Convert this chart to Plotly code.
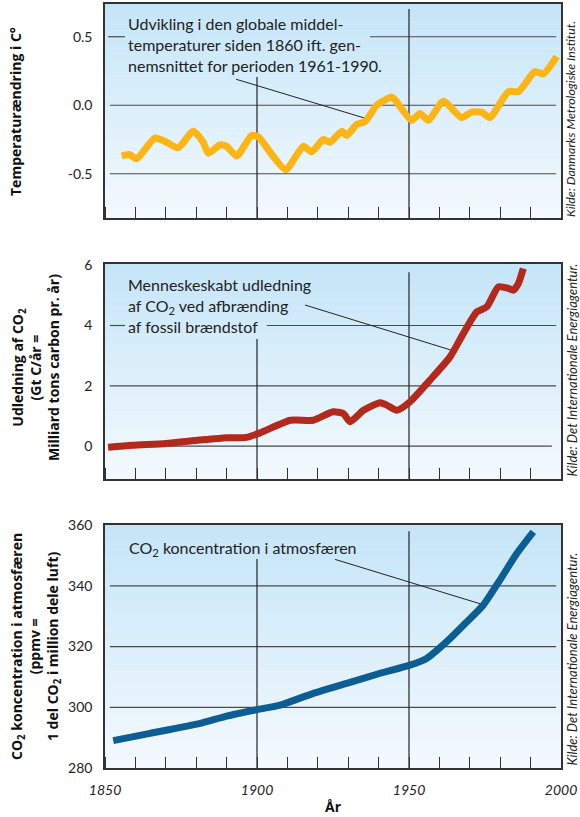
import plotly.graph_objects as go

# ---------------- data ----------------
temp_years = [1855.5, 1858, 1860.4, 1866.4, 1870.3, 1874.1, 1879, 1882.3, 1884, 1887.8,
              1890, 1893.3, 1898.3, 1900.4, 1905.4, 1909.5, 1915.2, 1918, 1921.8, 1924,
              1927.9, 1929.5, 1932.8, 1935.5, 1939.4, 1944.3, 1945.4, 1950.9, 1953.6, 1956.4,
              1961.3, 1967.3, 1970.6, 1973.9, 1976.6, 1982.7, 1986, 1991.4, 1994.2, 1998.6]
temp_values = [-0.37, -0.36, -0.39, -0.24, -0.27, -0.31, -0.19, -0.27, -0.35, -0.29,
               -0.30, -0.37, -0.22, -0.23, -0.375, -0.47, -0.30, -0.34, -0.25, -0.27,
               -0.19, -0.22, -0.14, -0.12, 0.00, 0.06, 0.04, -0.11, -0.06, -0.11,
               0.03, -0.09, -0.05, -0.05, -0.09, 0.10, 0.10, 0.245, 0.23, 0.355]

emis_years = [1851, 1859, 1870, 1881, 1890, 1896.5, 1901, 1911, 1918.5, 1925,
              1928.4, 1930.6, 1935, 1940.5, 1942.7, 1946, 1950.3, 1956.9, 1963.5, 1967.9,
              1972.3, 1975.6, 1979.4, 1982.7, 1984.3, 1986, 1987.6]
emis_values = [-0.04, 0.03, 0.09, 0.20, 0.28, 0.29, 0.44, 0.86, 0.86, 1.14,
               1.08, 0.81, 1.19, 1.44, 1.36, 1.19, 1.47, 2.19, 2.96, 3.74,
               4.45, 4.62, 5.28, 5.23, 5.17, 5.40, 5.89]

conc_years = [1852.7, 1864.8, 1881.3, 1890, 1900.4, 1907.6, 1918.5, 1929.5, 1940.5,
              1950.3, 1955.8, 1962.4, 1969, 1974.4, 1979.9, 1985.4, 1990.9]
conc_values = [289.0, 291.4, 294.7, 297.1, 299.3, 300.7, 304.6, 307.9, 311.2,
               313.9, 316.1, 321.6, 328.1, 333.6, 341.9, 350.6, 357.8]

x_tickvals = [1850, 1900, 1950, 2000]
x_ticktext = ["1850", "1900", "1950", "2000"]
temp_ticks = [0.5, 0.0, -0.5]
temp_ticktext = ["0.5", "0.0", "-0.5"]
emis_ticks = [0, 2, 4, 6]
conc_ticks = [280, 300, 320, 340, 360]

# ---------------- styling ----------------
FONT = "Lato"
YELLOW = "#fdb515"
RED = "#b32a1d"
BLUE = "#0b5d92"
GRID = "#4a4a4a"
DARK = "#222222"

ranges = {
    "y": [-0.823, 0.739],
    "y2": [-1.09, 6.04],
    "y3": [280, 360.2],
}
XR = [1850, 2000]
XDOM = [105 / 580, 561 / 580]
YDOMS = {
    "y": [1 - 218 / 817, 1 - 4 / 817],
    "y2": [1 - 479 / 817, 1 - 264 / 817],
    "y3": [1 - 768 / 817, 1 - 524.5 / 817],
}

fig = go.Figure()

fig.add_trace(go.Scatter(x=temp_years, y=temp_values, mode="lines", xaxis="x", yaxis="y",
                         line=dict(color=YELLOW, width=7, shape="spline", smoothing=0.6),
                         showlegend=False, hoverinfo="skip"))
fig.add_trace(go.Scatter(x=emis_years, y=emis_values, mode="lines", xaxis="x2", yaxis="y2",
                         line=dict(color=RED, width=7, shape="spline", smoothing=0.6),
                         showlegend=False, hoverinfo="skip"))
fig.add_trace(go.Scatter(x=conc_years, y=conc_values, mode="lines", xaxis="x3", yaxis="y3",
                         line=dict(color=BLUE, width=7, shape="spline", smoothing=0.6),
                         showlegend=False, hoverinfo="skip"))

shapes = []

# gradient background (light blue at top -> almost white at bottom)
TOP_RGB = (196, 229, 248)
BOT_RGB = (244, 249, 253)
NB = 48
for ax in ["", "2", "3"]:
    for i in range(NB):
        t = (i + 0.5) / NB
        c = tuple(round(BOT_RGB[k] + (TOP_RGB[k] - BOT_RGB[k]) * t) for k in range(3))
        shapes.append(dict(type="rect", xref=f"x{ax} domain", yref=f"y{ax} domain",
                           x0=0, x1=1, y0=i / NB, y1=(i + 1) / NB + 0.002,
                           fillcolor="rgb(%d,%d,%d)" % c, line=dict(width=0),
                           layer="below"))

GL, GR = 1851.6, 1998.4


def hline(xref, yref, y, x0=GL, x1=GR):
    shapes.append(dict(type="line", xref=xref, yref=yref, x0=x0, x1=x1, y0=y, y1=y,
                       line=dict(color=GRID, width=1.2), layer="below"))


def vline(xref, yref, x, y0, y1):
    shapes.append(dict(type="line", xref=xref, yref=yref, x0=x, x1=x, y0=y0, y1=y1,
                       line=dict(color=DARK, width=1.2), layer="below"))


def pointer(xref, yref, x0, y0, x1, y1):
    shapes.append(dict(type="line", xref=xref, yref=yref, x0=x0, x1=x1, y0=y0, y1=y1,
                       line=dict(color=DARK, width=1), layer="below"))


# top panel grid
hline("x", "y", 0.5, 1851.0, 1856.6)
hline("x", "y", 0.5, 1937.2, GR)
hline("x", "y", 0.0)
hline("x", "y", -0.5)
vline("x", "y", 1900, ranges["y"][0], 0.207)
vline("x", "y", 1950, ranges["y"][0], 0.703)
pointer("x", "y", 1893.1, 0.19, 1935.9, -0.097)

# middle panel grid
hline("x2", "y2", 4, GL, 1856.6)
hline("x2", "y2", 4, 1903.3, GR)
hline("x2", "y2", 2)
hline("x2", "y2", 0, GL, 1997.0)
vline("x2", "y2", 1900, ranges["y2"][0], 3.55)
vline("x2", "y2", 1950, ranges["y2"][0], 5.77)
pointer("x2", "y2", 1915.8, 4.68, 1964.0, 3.18)

# bottom panel grid
for v in [340, 320, 300]:
    hline("x3", "y3", v)
vline("x3", "y3", 1900, 280, 348.8)
vline("x3", "y3", 1950, 280, 358.0)
pointer("x3", "y3", 1925.7, 348.7, 1975.0, 333.6)

tickfont = dict(family=FONT, size=14, color=DARK)


def xaxis(anchor, labels):
    return dict(domain=XDOM, range=XR, anchor=anchor, showgrid=False, zeroline=False,
                automargin=False,
                showline=True, mirror=True, linecolor="#333333", linewidth=1.5,
                tickmode="array", tickvals=x_tickvals, ticktext=x_ticktext, ticks="",
                showticklabels=labels,
                tickfont=dict(family=FONT, size=14, color=DARK, style="italic"),
                ticklabelstandoff=8,
                minor=dict(tickmode="linear", tick0=1850, dtick=10, ticks="inside",
                           ticklen=11, tickwidth=1.2, tickcolor="#333333"))


def yaxis(anchor, name, tv, tt):
    return dict(domain=YDOMS[name], range=ranges[name], anchor=anchor, showgrid=False,
                zeroline=False, showline=True, mirror=True, linecolor="#333333",
                automargin=False,
                linewidth=1.5, tickmode="array", tickvals=tv, ticktext=tt, ticks="",
                tickfont=tickfont, ticklabelstandoff=8)


annotations = []


def ann(text, x, y, xref="paper", yref="paper", **kw):
    d = dict(text=text, x=x, y=y, xref=xref, yref=yref, showarrow=False)
    d.update(kw)
    annotations.append(d)


AFONT = dict(family=FONT, size=16, color=DARK)
ann("Udvikling i den globale middel-<br>temperaturer siden 1860 ift. gen-<br>"
    "nemsnittet for perioden 1961-1990.", 1857.0, 0.44, "x", "y",
    xanchor="left", yanchor="middle", align="left", font=AFONT)
ann("Menneskeskabt udledning<br>af CO<sub>2</sub> ved afbrænding<br>af fossil brændstof",
    1857.0, 4.68, "x2", "y2", xanchor="left", yanchor="middle", align="left", font=AFONT)
ann("CO<sub>2</sub> koncentration i atmosfæren", 1857.2, 352.4, "x3", "y3",
    xanchor="left", yanchor="middle", align="left", font=AFONT)

TFONT = dict(family="Open Sans", size=14, color="#111111", weight="bold")
ann("Temperaturændring i C°", 15 / 580, 1 - 112 / 817, textangle=-90,
    xanchor="center", yanchor="middle", font=TFONT)
ann("Udledning af CO<sub>2</sub><br>(Gt C/år =<br>Milliard tons carbon pr. år)",
    35 / 580, 1 - 368 / 817, textangle=-90, xanchor="center", yanchor="middle",
    align="center", font=TFONT)
ann("CO<sub>2</sub> koncentration i atmosfæren<br>(ppmv =<br>1 del CO<sub>2</sub> i million dele luft)",
    35 / 580, 1 - 647 / 817, textangle=-90, xanchor="center", yanchor="middle",
    align="center", font=TFONT)

ann("År", 333 / 580, 1 - 806 / 817, xanchor="center", yanchor="middle",
    font=dict(family="Open Sans", size=14, color="#111111", weight="bold"))

ann("Kilde: Danmarks Metrologiske Institut.", 571 / 580, 1 - 219 / 817, textangle=-90,
    xanchor="center", yanchor="bottom",
    font=dict(family=FONT, size=12.4, color=DARK, style="italic"))
SFONT = dict(family=FONT, size=13, color=DARK, style="italic")
ann("Kilde: Det Internationale Energiagentur.", 571 / 580, 1 - 479 / 817, textangle=-90,
    xanchor="center", yanchor="bottom", font=SFONT)
ann("Kilde: Det Internationale Energiagentur.", 571 / 580, 1 - 768 / 817, textangle=-90,
    xanchor="center", yanchor="bottom", font=SFONT)

fig.update_layout(
    template="none",
    width=580, height=817,
    margin=dict(l=0, r=0, t=0, b=0, pad=0),
    paper_bgcolor="white", plot_bgcolor="rgba(0,0,0,0)",
    showlegend=False,
    font=dict(family=FONT, size=13, color=DARK),
    xaxis=xaxis("y", False), xaxis2=xaxis("y2", False), xaxis3=xaxis("y3", True),
    yaxis=yaxis("x", "y", temp_ticks, temp_ticktext),
    yaxis2=yaxis("x2", "y2", emis_ticks, [str(v) for v in emis_ticks]),
    yaxis3=yaxis("x3", "y3", conc_ticks, [str(v) for v in conc_ticks]),
    shapes=shapes, annotations=annotations,
)

fig.write_html("out.html",
               config={"displayModeBar": False},
               post_script="document.body.style.margin='0px';"
                           "document.body.style.overflow='hidden';")
